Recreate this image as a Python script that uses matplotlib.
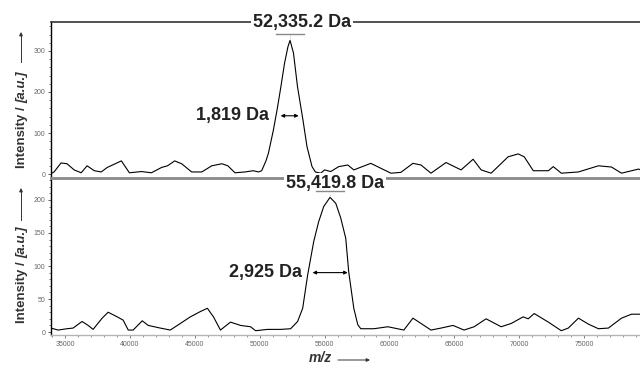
import matplotlib.pyplot as plt
from matplotlib.ticker import MultipleLocator

plt.rcParams['font.family'] = ['Liberation Sans', 'DejaVu Sans']

# spectrum 1 (top): m/z, intensity
top_mz = [33850, 34140, 34680, 35140, 35690, 36230, 36690, 37240, 37780, 38240,
          38790, 39330, 39950, 40880, 41650, 42430, 42890, 43440, 43980, 44750,
          45530, 46300, 47080, 47540, 48090, 48860, 49500, 49900, 50150, 50490,
          50670, 51050, 51360, 51630, 51910, 52170, 52335, 52600, 52910, 53330,
          53640, 54030, 54290, 54700, 55000, 55470, 56090, 56790, 57250, 58560,
          60110, 60880, 61810, 62430, 63200, 64360, 65520, 66450, 67070, 67840,
          69150, 69930, 70390, 71090, 72250, 72630, 73250, 74570, 76110, 77120,
          77890, 79200, 79400]
top_int = [0, 5, 27, 25, 10, 3, 20, 8, 5, 16,
           24, 32, 3, 6, 3, 16, 20, 32, 25, 5,
           5, 20, 25, 20, 3, 5, 8, 5, 8, 33,
           51, 107, 161, 213, 270, 310, 326, 295, 213, 132,
           67, 18, 5, 2, 10, 6, 18, 22, 10, 26,
           2, 4, 26, 22, 2, 28, 10, 36, 10, 2,
           42, 49, 42, 8, 8, 18, 2, 5, 20, 17,
           2, 12, 10]

# spectrum 2 (bottom)
bot_mz = [33900, 34450, 35140, 35610, 36300, 36770, 37150, 37850, 38310, 39010,
          39470, 39860, 40240, 40940, 41400, 42330, 43100, 43880, 44650, 45420,
          45960, 46430, 46970, 47740, 48520, 49290, 49680, 50600, 51610, 52380,
          52920, 53310, 53690, 54160, 54540, 54930, 55420, 55860, 56240, 56630,
          56860, 57250, 57560, 57790, 58800, 59880, 61110, 61810, 62430, 63200,
          63980, 64900, 65750, 66530, 67450, 68610, 69390, 70310, 70700, 71160,
          72250, 73250, 73790, 74570, 75340, 76110, 76880, 77890, 78660, 79400]
bot_int = [6, 3, 5, 6, 16, 10, 4, 21, 30, 23,
           18, 3, 3, 17, 10, 6, 3, 13, 23, 31,
           36, 23, 3, 15, 10, 8, 2, 4, 4, 5,
           16, 36, 86, 137, 167, 190, 204, 195, 173, 142,
           91, 36, 11, 5, 5, 8, 3, 21, 13, 3,
           6, 10, 3, 8, 20, 8, 13, 23, 20, 28,
           15, 2, 6, 21, 12, 5, 6, 21, 27, 27]

peaks = [52335.2, 55419.8]
peak_labels = ["52,335.2 Da", "55,419.8 Da"]
fwhm_labels = ["1,819 Da", "2,925 Da"]
fwhm_ranges = [(51610, 53000), (54070, 56780)]
fwhm_levels = [142, 90]

W, H = 640, 365


def fx(px):
    return px / W


def fy(py):
    return 1 - py / H


fig = plt.figure(figsize=(6.4, 3.65), dpi=100)
ax1 = fig.add_axes([fx(51), fy(177), fx(640) - fx(51), fy(22) - fy(177)])
ax2 = fig.add_axes([fx(51), fy(335), fx(640) - fx(51), fy(178) - fy(335)])

for ax in (ax1, ax2):
    ax.set_xlim(33905, 79317)
    ax.spines['right'].set_visible(False)
    ax.spines['left'].set_color('black')
    ax.spines['left'].set_linewidth(1.0)
    ax.tick_params(axis='y', which='major', length=2.5, width=0.6, pad=1.5,
                   labelsize=5, labelcolor='#666666', color='#444444')
    ax.tick_params(axis='y', which='minor', length=1.5, width=0.5, color='#444444')

ax1.plot(top_mz, top_int, color='black', lw=0.8)
ax1.set_ylim(-7.3, 370.7)
ax1.yaxis.set_major_locator(MultipleLocator(100))
ax1.yaxis.set_minor_locator(MultipleLocator(20))
ax1.spines['bottom'].set_visible(False)
ax1.spines['top'].set_color('#333333')
ax1.spines['top'].set_linewidth(1.2)
ax1.tick_params(axis='x', which='both', bottom=False, labelbottom=False)

ax2.plot(bot_mz, bot_int, color='black', lw=0.8)
ax2.set_ylim(-4.5, 233.3)
ax2.yaxis.set_major_locator(MultipleLocator(50))
ax2.yaxis.set_minor_locator(MultipleLocator(10))
ax2.xaxis.set_major_locator(MultipleLocator(5000))
ax2.xaxis.set_minor_locator(MultipleLocator(1000))
ax2.spines['top'].set_color('#8a8a8a')
ax2.spines['top'].set_linewidth(2.0)
ax2.spines['bottom'].set_color('#b5b5b5')
ax2.spines['bottom'].set_linewidth(1.0)
ax2.tick_params(axis='x', which='major', length=2.5, width=0.6, pad=2,
                labelsize=5, labelcolor='#666666', color='#666666')
ax2.tick_params(axis='x', which='minor', length=1.5, width=0.5, color='#666666')

# peak labels, marker bars and FWHM arrows
label_pos = [(302, 22.5), (335, 183.5)]
bar_levels = [342, 213]
for ax, pk, lab, (px, py), bar in zip((ax1, ax2), peaks, peak_labels, label_pos, bar_levels):
    ax.text(fx(px), fy(py), lab, transform=fig.transFigure, ha='center', va='center',
            fontsize=13, fontweight='bold', color='#222222', zorder=5,
            bbox=dict(facecolor='white', edgecolor='none', pad=1.5))
    ax.plot([pk - 1100, pk + 1100], [bar, bar], color='#888888', lw=1.0,
            clip_on=False, zorder=6)

ax1.plot([peaks[0], peaks[0]], [342, 328], color='#888888', lw=0.5, ls=':')
ax2.plot([peaks[1], peaks[1]], [213, 206], color='#888888', lw=0.5, ls=':')

for ax, lab, (x0, x1), lvl, off in zip((ax1, ax2), fwhm_labels, fwhm_ranges,
                                       fwhm_levels, (900, 850)):
    ax.annotate('', xy=(x0, lvl), xytext=(x1, lvl),
                arrowprops=dict(arrowstyle='<|-|>', lw=0.8, color='black',
                                mutation_scale=5, shrinkA=0, shrinkB=0))
    ax.text(x0 - off, lvl, lab, ha='right', va='center', fontsize=13,
            fontweight='bold', color='#222222')

# axis labels with arrows: upright part, then italic part stacked above it
renderer = fig.canvas.get_renderer()
for ybottom, ytop, ybot in [(168, 32, 62), (323, 188, 220)]:
    t1 = fig.text(fx(22), fy(ybottom), "Intensity / ", rotation=90, ha='center',
                  va='bottom', fontsize=9.5, fontweight='bold', color='#333333')
    h = t1.get_window_extent(renderer).height
    fig.text(fx(22), fy(ybottom) + h / H, "[a.u.]", rotation=90, ha='center',
             va='bottom', fontsize=9.5, fontweight='bold', fontstyle='italic',
             color='#333333')
    fig.add_artist(plt.Line2D([fx(21), fx(21)], [fy(ybot), fy(ytop + 3)],
                              color='#333333', lw=0.7))
    plt.annotate('', xy=(fx(21), fy(ytop)), xytext=(fx(21), fy(ytop + 4)),
                 xycoords='figure fraction',
                 arrowprops=dict(arrowstyle='-|>', lw=0.7, color='#333333',
                                 mutation_scale=5, shrinkA=0, shrinkB=0))

fig.text(fx(320), fy(358), "m/z", ha='center', va='center', fontsize=10,
         fontweight='bold', fontstyle='italic', color='#333333')
plt.annotate('', xy=(fx(370), fy(360)), xytext=(fx(338), fy(360)),
             xycoords='figure fraction',
             arrowprops=dict(arrowstyle='-|>', lw=0.7, color='#333333',
                             mutation_scale=5, shrinkA=0, shrinkB=0))

plt.savefig("out.png", dpi=100)
